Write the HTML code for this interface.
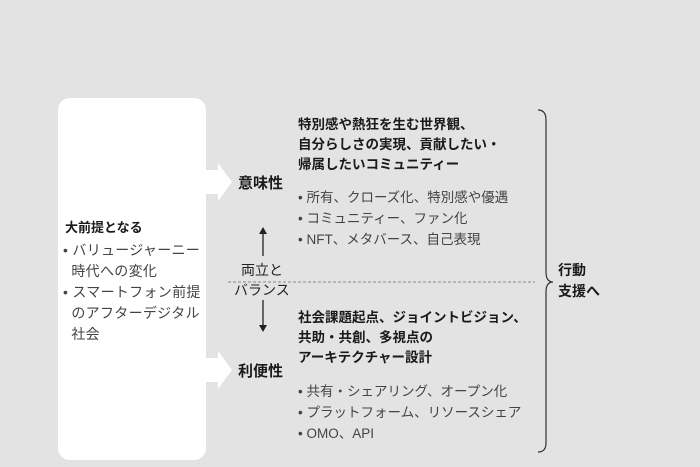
<!DOCTYPE html>
<html><head><meta charset="utf-8"><style>
body{margin:0;width:700px;height:467px;background:#e3e3e3;position:relative;overflow:hidden;font-family:"Liberation Sans","Noto Sans CJK JP",sans-serif;color:#222}
.t{position:absolute;white-space:nowrap;font-size:13px;line-height:20px}
.b{font-weight:bold;color:#1a1a1a}
.g{color:#444}
</style></head><body>
<div style="position:absolute;left:58px;top:98px;width:148px;height:362px;background:#fff;border-radius:12px"></div>
<svg style="position:absolute;left:0;top:0" width="700" height="467">
<polygon points="205,170 218,170 218,163 232,182 218,201 218,194 205,194" fill="#fff"/>
<polygon points="205,358 218,358 218,351 232,370 218,389 218,382 205,382" fill="#fff"/>
<line x1="263" y1="233" x2="263" y2="256" stroke="#222" stroke-width="1.3"/>
<polygon points="259,234 267,234 263,227" fill="#222"/>
<line x1="263" y1="300" x2="263" y2="326" stroke="#222" stroke-width="1.3"/>
<polygon points="259,325 267,325 263,332" fill="#222"/>
<line x1="228" y1="282" x2="535" y2="282" stroke="#888" stroke-width="1" stroke-dasharray="3,2"/>
<path d="M538,110 Q546,110 546,120 L546,272 Q546,282 553,282 Q546,282 546,292 L546,443 Q546,452 538,452" fill="none" stroke="#333" stroke-width="1.2"/>
</svg>
<div class="t b" style="left:65px;top:218px">大前提となる</div>
<div class="t g" style="left:63px;top:240px;line-height:21px;font-size:14px;letter-spacing:0.3px">• バリュージャーニー<br>&nbsp;&nbsp;時代への変化<br>• スマートフォン前提<br>&nbsp;&nbsp;のアフターデジタル<br>&nbsp;&nbsp;社会</div>
<div class="t b" style="left:238px;top:173px;font-size:15px;line-height:22px">意味性</div>
<div class="t b" style="left:238px;top:361px;font-size:15px;line-height:22px">利便性</div>
<div class="t" style="left:241px;top:260px;font-size:14px">両立と</div>
<div class="t" style="left:234px;top:280px;font-size:14px">バランス</div>
<div class="t b" style="left:298px;top:115px;font-size:13.5px">特別感や熱狂を生む世界観、<br>自分らしさの実現、貢献したい・<br>帰属したいコミュニティー</div>
<div class="t g" style="left:298px;top:187px;line-height:21px;font-size:13.5px">• 所有、クローズ化、特別感や優遇<br>• コミュニティー、ファン化<br>• NFT、メタバース、自己表現</div>
<div class="t b" style="left:298px;top:308px;font-size:13.5px">社会課題起点、ジョイントビジョン、<br>共助・共創、多視点の<br>アーキテクチャー設計</div>
<div class="t g" style="left:298px;top:381px;line-height:21px;font-size:13.5px">• 共有・シェアリング、オープン化<br>• プラットフォーム、リソースシェア<br>• OMO、API</div>
<div class="t b" style="left:558px;top:260px;font-size:14px;line-height:21px">行動<br>支援へ</div>
</body></html>
